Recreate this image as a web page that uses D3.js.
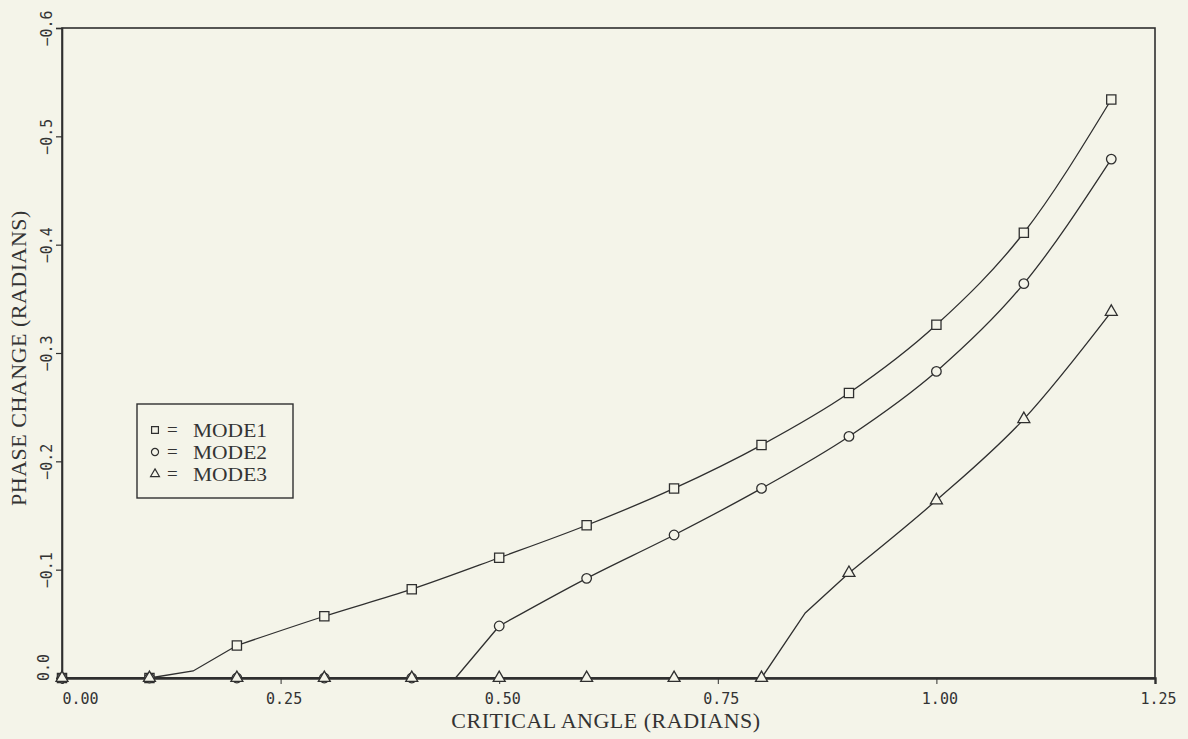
<!DOCTYPE html>
<html>
<head>
<meta charset="utf-8">
<script src="https://cdn.jsdelivr.net/npm/d3@7"></script>
<style>
  html, body { margin: 0; padding: 0; background: #f4f4e9; }
  svg { display: block; }
</style>
</head>
<body>
<svg id="chart" width="1188" height="739"></svg>
<script>
// ---- data ----
const angles = [0.0, 0.1, 0.2, 0.3, 0.4, 0.5, 0.6, 0.7, 0.8, 0.9, 1.0, 1.1, 1.2];
const mode1 = [0, 0, -0.030, -0.057, -0.082, -0.111, -0.141, -0.175, -0.215, -0.263, -0.326, -0.411, -0.534];
const mode2 = [0, 0, 0, 0, 0, -0.048, -0.092, -0.132, -0.175, -0.223, -0.283, -0.364, -0.479];
const mode3 = [0, 0, 0, 0, 0, 0, 0, 0, 0, -0.097, -0.164, -0.239, -0.338];
// extra curve vertices visible between markers (angle, phase): where each curve lifts off
const mode1Bend = [0.15, -0.0065];
const mode2Bend = [0.45, 0];
const mode3Bend = [0.85, -0.060];
const seriesNames = ["MODE1", "MODE2", "MODE3"];
const xTicks = [0, 0.25, 0.5, 0.75, 1.0, 1.25];
const xTickLabels = ["0.00", "0.25", "0.50", "0.75", "1.00", "1.25"];
const yTicks = [0, -0.1, -0.2, -0.3, -0.4, -0.5, -0.6];
const yTickLabels = ["0.0", "\u22120.1", "\u22120.2", "\u22120.3", "\u22120.4", "\u22120.5", "\u22120.6"];

(function () {
// ---- layout ----
const ink = "#2f2f2f";
const bg = "#f4f4e9";
const pL = 62, pR = 1155, pT = 28, pB = 678;
const svg = d3.select("#chart");

const x = d3.scaleLinear().domain([0, 1.25]).range([pL, pR]);
const y = d3.scaleLinear().domain([0, -0.6]).range([pB, pT]);

// frame
svg.append("rect")
  .attr("x", pL).attr("y", pT)
  .attr("width", pR - pL).attr("height", pB - pT)
  .attr("fill", "none").attr("stroke", ink).attr("stroke-width", 1.6);

// x axis
const xAxis = d3.axisBottom(x).tickValues(xTicks)
  .tickFormat((d, i) => xTickLabels[i]).tickSize(6).tickPadding(9);
const gx = svg.append("g").attr("transform", `translate(0,${pB})`).call(xAxis);
gx.select(".domain").attr("stroke", ink).attr("stroke-width", 2.4);
gx.selectAll(".tick line").attr("stroke", ink).attr("stroke-width", 1);
gx.selectAll(".tick text")
  .attr("fill", "#333").attr("font-family", "DejaVu Sans Mono")
  .attr("font-size", 15)
  .attr("x", (d, i) => i === 0 ? 0 : 3)
  .attr("text-anchor", (d, i) => i === 0 ? "start" : "middle");

// y axis
const yAxis = d3.axisLeft(y).tickValues(yTicks)
  .tickFormat((d, i) => yTickLabels[i]).tickSize(6).tickPadding(4);
const gy = svg.append("g").attr("transform", `translate(${pL},0)`).call(yAxis);
gy.select(".domain").attr("stroke", ink).attr("stroke-width", 1.6);
gy.selectAll(".tick line").attr("stroke", ink).attr("stroke-width", 1.2);
gy.selectAll(".tick text")
  .attr("fill", "#333").attr("font-family", "DejaVu Sans Mono")
  .attr("font-size", 15)
  .attr("x", null).attr("dy", null)
  .attr("text-anchor", "middle")
  .attr("dominant-baseline", "central")
  .attr("transform", (d, i) => i === 0 ? "translate(-18,-11) rotate(-90)" : "translate(-15,0) rotate(-90)");

// axis titles
svg.append("text")
  .attr("x", 606).attr("y", 728)
  .attr("text-anchor", "middle")
  .attr("font-family", "Liberation Serif").attr("font-size", 22)
  .attr("letter-spacing", 0.5)
  .attr("fill", "#333").text("CRITICAL ANGLE (RADIANS)");

svg.append("text")
  .attr("transform", "translate(26,358) rotate(-90)")
  .attr("text-anchor", "middle")
  .attr("font-family", "Liberation Serif").attr("font-size", 22)
  .attr("letter-spacing", 0.5)
  .attr("fill", "#333").text("PHASE CHANGE (RADIANS)");

// series
const modes = [mode1, mode2, mode3];
const bends = [mode1Bend, mode2Bend, mode3Bend];
const symbols = [d3.symbolSquare, d3.symbolCircle, d3.symbolTriangle];
const symSizes = [85, 72, 62];

const flatLine = d3.line().x(d => x(d[0])).y(d => y(d[1]));
const curveLine = d3.line().x(d => x(d[0])).y(d => y(d[1])).curve(d3.curveMonotoneX);

modes.forEach((vals, k) => {
  const pts = angles.map((a, i) => [a, vals[i]]);
  const b = bends[k];
  const firstAfter = pts.find(p => p[0] > b[0]);
  const before = pts.filter(p => p[0] < b[0]).concat([b, firstAfter]);
  const after = pts.filter(p => p[0] >= firstAfter[0]);
  [[before, flatLine], [after, curveLine]].forEach(([data, gen]) => {
    svg.append("path")
      .datum(data)
      .attr("d", gen)
      .attr("fill", "none")
      .attr("stroke", ink)
      .attr("stroke-width", 1.3);
  });
});

modes.forEach((vals, k) => {
  const pts = angles.map((a, i) => [a, vals[i]]);
  svg.append("g").selectAll("path")
    .data(pts)
    .join("path")
    .attr("transform", d => `translate(${x(d[0])},${y(d[1])})`)
    .attr("d", d3.symbol().type(symbols[k]).size(symSizes[k]))
    .attr("fill", bg)
    .attr("stroke", ink)
    .attr("stroke-width", 1.3);
});

// legend
const lg = svg.append("g");
lg.append("rect")
  .attr("x", 137).attr("y", 404).attr("width", 156).attr("height", 94)
  .attr("fill", "none").attr("stroke", ink).attr("stroke-width", 1.4);
seriesNames.forEach((name, k) => {
  const cy = 430 + k * 22;
  lg.append("path")
    .attr("transform", `translate(155,${cy})`)
    .attr("d", d3.symbol().type(symbols[k]).size(symSizes[k] * 0.55))
    .attr("fill", "none").attr("stroke", ink).attr("stroke-width", 1.2);
  lg.append("text")
    .attr("x", 167).attr("y", cy + 6)
    .attr("font-family", "Liberation Serif").attr("font-size", 19)
    .attr("fill", "#333")
    .text("=");
  lg.append("text")
    .attr("x", 193).attr("y", cy + 7)
    .attr("font-family", "Liberation Serif").attr("font-size", 19)
    .attr("textLength", 74).attr("lengthAdjust", "spacingAndGlyphs")
    .attr("fill", "#333")
    .text(name);
});
})();
</script>
</body>
</html>
